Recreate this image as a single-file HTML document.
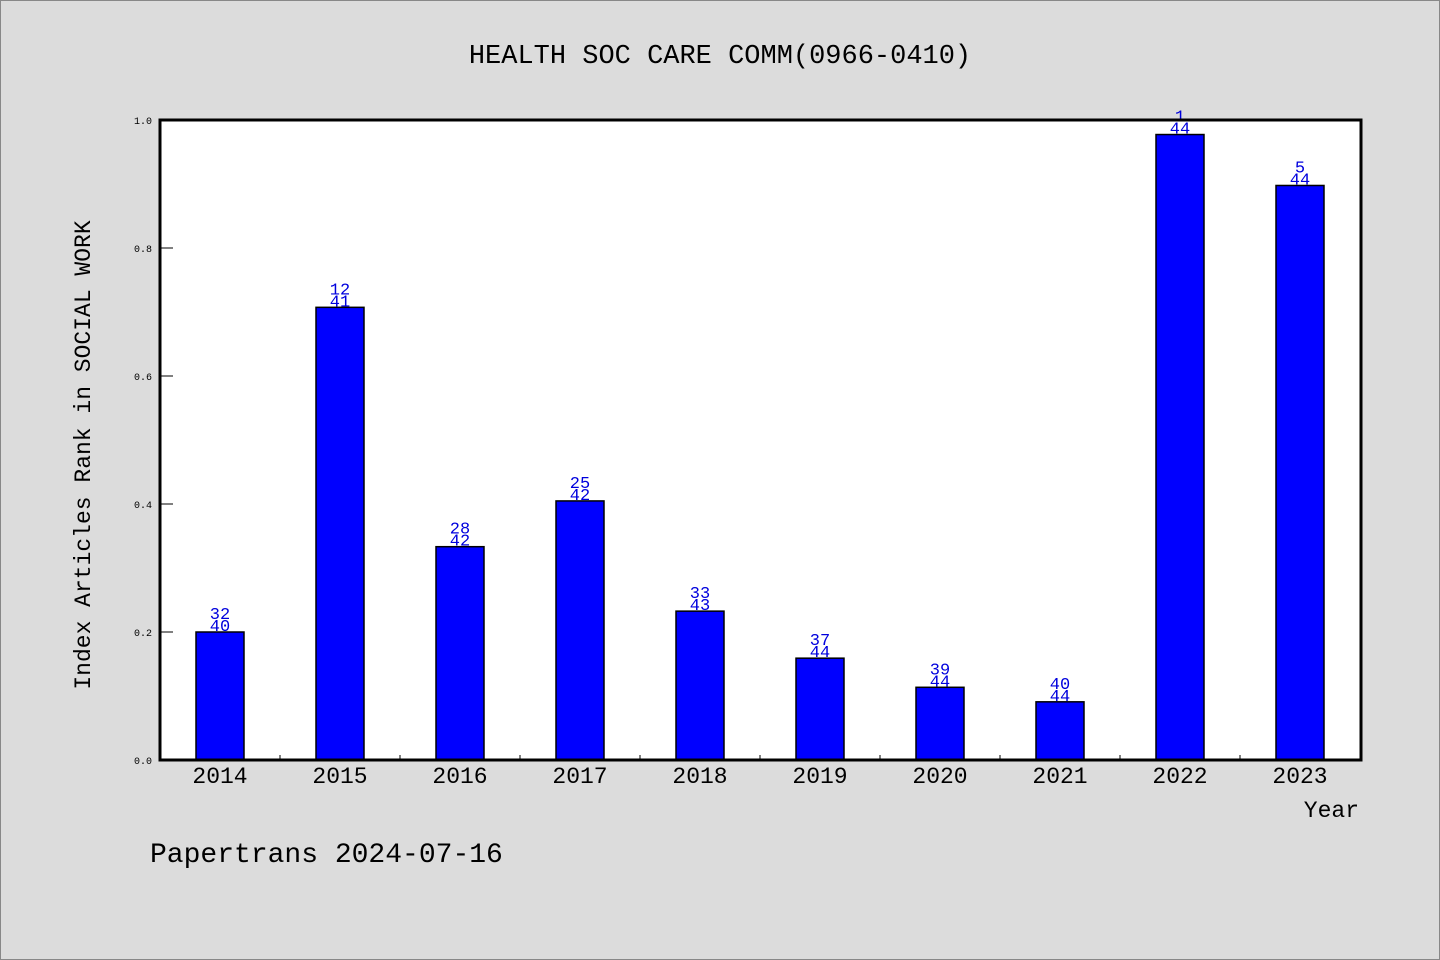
<!DOCTYPE html>
<html><head><meta charset="utf-8"><style>
body{margin:0;background:#dcdcdc}
svg{display:block}
text{font-family:"Liberation Mono","WenQuanYi Zen Hei",monospace}
</style></head><body>
<svg id="chart" width="1440" height="960">
<rect x="0.5" y="0.5" width="1439" height="959" fill="#dcdcdc" stroke="#888"/>
<text x="720" y="63" text-anchor="middle" font-size="27" fill="#000">HEALTH SOC CARE COMM(0966-0410)</text>
<rect x="160" y="120" width="1201" height="640" fill="#fff"/>
<g id="bars"></g>
<g id="yticks"></g>
<g id="xticks"></g>
<rect x="160" y="120" width="1201" height="640" fill="none" stroke="#000" stroke-width="3"/>
<text x="90" y="455" text-anchor="middle" font-size="23" transform="rotate(-90 90 455)">Index Articles Rank in SOCIAL WORK</text>
<text x="1359" y="817" text-anchor="end" font-size="23">Year</text>
<text x="150" y="862" font-size="28">Papertrans 2024-07-16</text>
</svg>
<script>
const years=["2014","2015","2016","2017","2018","2019","2020","2021","2022","2023"];
const ranks=[32,12,28,25,33,37,39,40,1,5];
const totals=[40,41,42,42,43,44,44,44,44,44];
const values=[0.2,0.7073,0.3333,0.4048,0.2326,0.1591,0.1136,0.0909,0.9773,0.8977];
const yTicks=[0,0.2,0.4,0.6,0.8,1.0];
const NS="http://www.w3.org/2000/svg";
const x0=160,band=120,yb=760,ph=640;
const xs=i=>x0+band*(i+0.5);
const ys=v=>yb-v*ph;
function mk(t,a,p,txt){const e=document.createElementNS(NS,t);for(const k in a)e.setAttribute(k,a[k]);if(txt!==undefined)e.textContent=txt;p.appendChild(e);return e;}
const gb=document.getElementById('bars'),gy=document.getElementById('yticks'),gx=document.getElementById('xticks');
years.forEach((y,i)=>{
 const cx=xs(i),top=ys(values[i]);
 const r=mk('rect',{x:cx-24,y:top,width:48,height:yb-top,fill:'#0000ff',stroke:'#000','stroke-width':1.5},gb);
 
 
 const t1=mk('text',{x:cx,y:top-13,'text-anchor':'middle','font-size':17,fill:'#0000dd'},gb,String(ranks[i]));
 
 
 const t2=mk('text',{x:cx,y:top-1,'text-anchor':'middle','font-size':17,fill:'#0000dd'},gb,String(totals[i]));
 
 
 const xl=mk('text',{x:cx,y:783,'text-anchor':'middle','font-size':23},gx,y);
 
 
 if(i>0){const tk=mk('line',{x1:x0+band*i,x2:x0+band*i,y1:755,y2:760,stroke:'#000','stroke-width':1},gx);
 
 }
});
yTicks.forEach(v=>{
 const y=ys(v);
 const l=mk('line',{x1:160,x2:173,y1:y,y2:y,stroke:'#000','stroke-width':1},gy);
 
 
 const t=mk('text',{x:152,y:y+4,'text-anchor':'end','font-size':10},gy,v.toFixed(1));
 
 
});
</script>
</body></html>
